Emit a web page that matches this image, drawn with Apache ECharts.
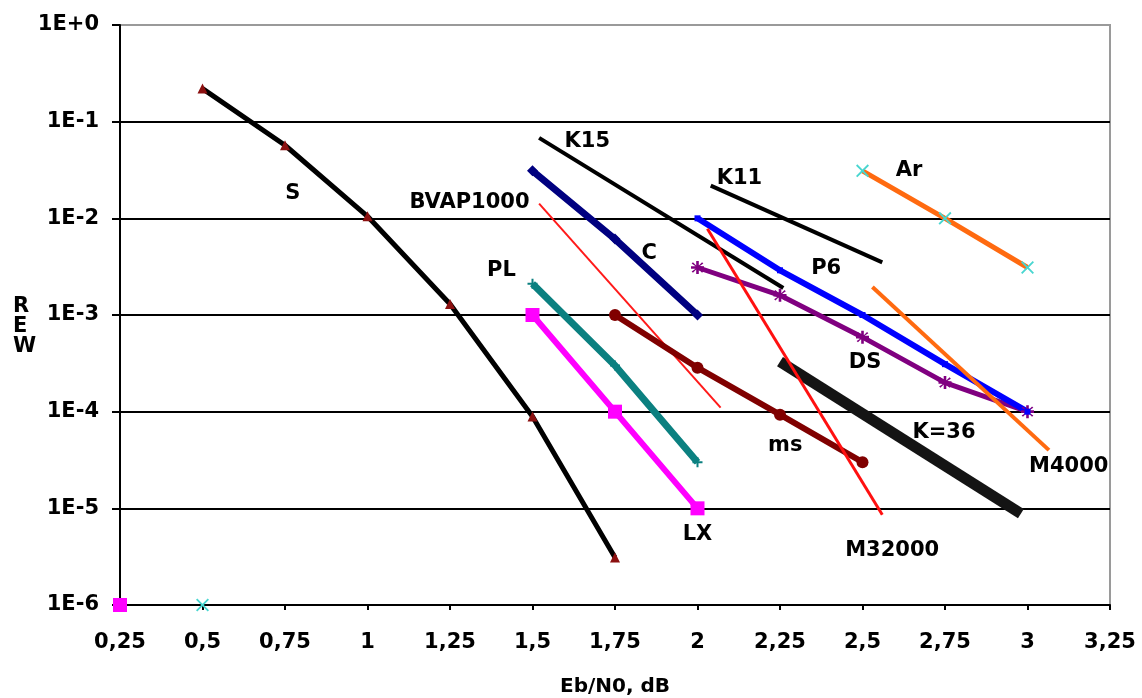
<!DOCTYPE html>
<html>
<head>
<meta charset="utf-8">
<title>BER vs Eb/N0</title>
<script src="https://cdn.jsdelivr.net/npm/echarts@6/dist/echarts.min.js"></script>
<style>
  html, body { margin: 0; padding: 0; background: #fff; }
  #chart { width: 1142px; height: 698px; }
</style>
</head>
<body>
<div id="chart"></div>
<script>
// tick labels
const xTickLabels = ['0,25', '0,5', '0,75', '1', '1,25', '1,5', '1,75', '2', '2,25', '2,5', '2,75', '3', '3,25']
const yTickLabels = ['1E-6', '1E-5', '1E-4', '1E-3', '1E-2', '1E-1', '1E+0']

// curves, [Eb/N0, BER]
const sData = [[0.5, 0.22], [0.75, 0.057], [1, 0.0105], [1.25, 0.0013], [1.5, 8.9e-5], [1.75, 3.1e-6]]
const cData = [[1.5, 0.031], [1.75, 0.0061], [2, 0.001]]
const plData = [[1.5, 0.0021], [1.75, 3.0e-4], [2, 3.0e-5]]
const lxData = [[1.5, 0.001], [1.75, 1e-4], [2, 1e-5]]
const msData = [[1.75, 0.001], [2, 2.85e-4], [2.25, 9.3e-5], [2.5, 3.0e-5]]
const p6Data = [[2, 0.01], [2.25, 0.0029], [2.5, 0.001], [2.75, 3.1e-4], [3, 1e-4]]
const dsData = [[2, 0.0031], [2.25, 0.0016], [2.5, 5.9e-4], [2.75, 2.0e-4], [3, 1e-4]]
const arData = [[2.5, 0.031], [2.75, 0.01], [3, 0.0031]]
const k15Data = [[1.52, 0.068], [2.26, 0.0019]]
const k11Data = [[2.04, 0.0218], [2.56, 0.0035]]
const bvapData = [[1.52, 0.0142], [2.07, 1.1e-4]]
const m32000Data = [[2.03, 0.0078], [2.56, 8.6e-6]]
const m4000Data = [[2.53, 0.00195], [3.065, 4.0e-5]]
const k36Data = [[2.25, 3.3e-4], [2.98, 8.8e-6]]
// stray points sitting on the bottom axis
const strayLX = [[0.25, 1e-6]]
const strayAr = [[0.5, 1e-6]]

// curve names and where they are written
const labelNames = ['S', 'K15', 'BVAP1000', 'C', 'PL', 'K11', 'Ar', 'P6', 'DS', 'K=36', 'M4000', 'ms', 'LX', 'M32000']
const labelAnchors = [
  [0.774, 0.018], [1.666, 0.062], [1.309, 0.0145], [1.854, 0.0043], [1.406, 0.0029],
  [2.127, 0.0258], [2.641, 0.031], [2.39, 0.003], [2.508, 3.2e-4], [2.747, 6.1e-5],
  [3.125, 2.7e-5], [2.266, 4.5e-5], [2.0, 5.3e-6], [2.59, 3.7e-6]
]

const FONT = 'DejaVu Sans'
const plusPath = 'path://M4,0H6V4H10V6H6V10H4V6H0V4H4Z'
const crossPath = 'path://M1,0L5,4L9,0L10,1L6,5L10,9L9,10L5,6L1,10L0,9L4,5L0,1Z'
const starPath = 'path://M4,0H6V3.5L8.5,1L9.5,2L6.5,4H10V6H6.5L9.5,8L8.5,9L6,6.5V10H4V6.5L1.5,9L0.5,8L3.5,6H0V4H3.5L0.5,2L1.5,1L4,3.5Z'

const line = (name, data, color, width, symbol, symbolSize, symbolColor) => ({
  name,
  type: 'line',
  data,
  clip: false,
  showSymbol: symbol !== 'none',
  symbol,
  symbolSize,
  itemStyle: { color: symbolColor || color },
  lineStyle: { color, width, cap: 'butt' },
  emphasis: { disabled: true },
  animation: false
})

const chart = echarts.init(document.getElementById('chart'))
chart.setOption({
  animation: false,
  grid: {
    left: 120, right: 32, top: 25, bottom: 93,
    outerBoundsMode: 'none',
    containLabel: false,
    show: true, borderColor: '#9a9a9a', borderWidth: 2, backgroundColor: '#fff'
  },
  xAxis: {
    type: 'value',
    min: 0.25,
    max: 3.25,
    interval: 0.25,
    name: 'Eb/N0, dB',
    nameLocation: 'middle',
    nameGap: 72,
    nameTextStyle: { fontFamily: FONT, fontSize: 20, fontWeight: 'bold', color: '#000' },
    axisLine: { lineStyle: { color: '#000', width: 2 } },
    axisTick: { length: 5, lineStyle: { color: '#000', width: 2 } },
    axisLabel: {
      margin: 27,
      fontFamily: FONT, fontSize: 21, fontWeight: 'bold', color: '#000',
      formatter: v => xTickLabels[Math.round((v - 0.25) / 0.25)]
    },
    splitLine: { show: false }
  },
  yAxis: {
    type: 'log',
    logBase: 10,
    min: 1e-6,
    max: 1,
    axisLine: { show: true, lineStyle: { color: '#000', width: 2 } },
    axisTick: { show: true, length: 8, lineStyle: { color: '#000', width: 2 } },
    axisLabel: {
      margin: 21,
      fontFamily: FONT, fontSize: 21, fontWeight: 'bold', color: '#000',
      formatter: v => yTickLabels[Math.round(Math.log10(v)) + 6]
    },
    splitLine: {
      show: true,
      lineStyle: { color: ['#000', '#000', '#000', '#000', '#000', '#000', '#9a9a9a'], width: 2 }
    }
  },
  graphic: [{
    type: 'text',
    left: 13,
    top: 296,
    style: {
      text: 'R\nE\nW',
      fontFamily: FONT, fontSize: 21, fontWeight: 'bold', fill: '#000',
      lineHeight: 20, align: 'center'
    }
  }],
  series: [
    line('K=36', k36Data, '#141414', 11, 'none'),
    line('BVAP1000', bvapData, '#ff1a1a', 2, 'none'),
    line('K15', k15Data, '#000', 4, 'none'),
    line('K11', k11Data, '#000', 4, 'none'),
    line('S', sData, '#000', 5, 'triangle', 10, '#8b1010'),
    line('C', cData, '#000080', 7, 'diamond', 11),
    line('PL', plData, '#0b8080', 7, plusPath, 10),
    line('LX', lxData, '#ff00ff', 6, 'rect', 14),
    line('ms', msData, '#800000', 6, 'circle', 12),
    line('DS', dsData, '#800080', 5, starPath, 13),
    line('P6', p6Data, '#0000ff', 6, 'rect', 6),
    line('M32000', m32000Data, '#ff1010', 3, 'none'),
    line('M4000', m4000Data, '#ff6a10', 4, 'none'),
    line('Ar', arData, '#ff6a10', 5, crossPath, 13, '#48d6d0'),
    line('LX0', strayLX, '#ff00ff', 0, 'rect', 14),
    line('Ar0', strayAr, '#48d6d0', 0, crossPath, 13),
    {
      type: 'scatter',
      symbolSize: 0,
      silent: true,
      animation: false,
      itemStyle: { opacity: 1 },
      data: labelNames.map((n, i) => ({ name: n, value: labelAnchors[i] })),
      label: {
        show: true,
        position: 'inside',
        opacity: 1,
        formatter: p => p.name,
        fontFamily: FONT, fontSize: 21, fontWeight: 'bold', color: '#000'
      }
    }
  ]
})
</script>
</body>
</html>
